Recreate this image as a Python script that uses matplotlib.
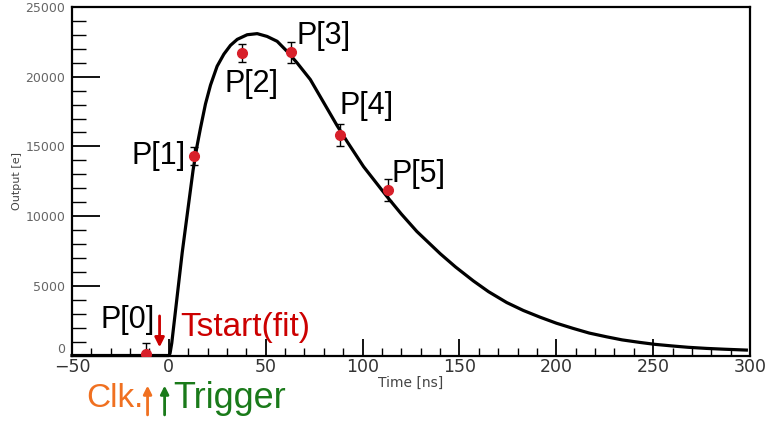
import matplotlib.pyplot as plt
import numpy as np

# ******************************************************************************
# Sampled points P[0]..P[5] (time in ns, output in e)
samp_t = [-12.0, 12.9, 37.8, 63.2, 88.2, 113.1]
samp_v = [100, 14320, 21700, 21750, 15820, 11890]
samp_err = [830, 650, 650, 770, 800, 800]
samp_names = ["P[0]", "P[1]", "P[2]", "P[3]", "P[4]", "P[5]"]

# Fitted pulse shape
fit_t = [-50, 0, 0.6, 1.5, 6.9, 10.5, 12.5, 14.5, 16.3, 18.9, 21.5, 24.9, 28.4,
         31.8, 35.3, 40.4, 45.6, 50.7, 55.9, 61.0, 66.2, 73.0, 79.9, 86.8,
         92.0, 100.5, 112.6, 120.0, 128.0, 140.1, 148.0, 157.2, 165.0, 174.4,
         183.0, 191.6, 200.0, 208.8, 217.0, 226.0, 234.0, 243.1, 251.0, 260.3,
         268.0, 277.5, 287.0, 298.1]
fit_v = [0, 0, 150, 900, 7400, 11200, 13300, 15000, 16300, 18050, 19400, 20750,
         21620, 22250, 22680, 23010, 23090, 22890, 22540, 21820, 20990, 19800,
         18150, 16500, 15350, 13550, 11400, 10150, 8900, 7300, 6350, 5350, 4580,
         3800, 3230, 2750, 2320, 1940, 1610, 1340, 1120, 940, 800, 680, 590, 510,
         450, 390]

# Label positions (t, v) for the point names
label_t = [-21.3, -5.3, 42.6, 79.7, 101.9, 128.7]
label_v = [2540, 14320, 19460, 22890, 17890, 13040]
# ******************************************************************************

fig = plt.figure(figsize=(7.71, 4.25), dpi=100)
ax = fig.add_axes([0.0934, 0.1635, 0.8794, 0.82])

ax.plot(fit_t, fit_v, color="black", lw=2.3, zorder=3, clip_on=False,
        solid_joinstyle="round")
ax.errorbar(samp_t, samp_v, yerr=samp_err, fmt="o", color="#d8202a", ms=7,
            ecolor="black", elinewidth=1.0, capsize=3, capthick=1.0, zorder=4)

lab_font = dict(family=["Liberation Sans", "DejaVu Sans"])
for name, tx, vy in zip(samp_names, label_t, label_v):
    ax.text(tx, vy, name, fontsize=22, ha="center", va="center", **lab_font)

# Tstart marker
ax.annotate("", xy=(-4.8, 390), xytext=(-4.8, 3040), annotation_clip=False,
            arrowprops=dict(arrowstyle="-|>", color="#cc0000", lw=2, mutation_scale=14))
ax.text(6.0, 2040, "Tstart(fit)", color="#cc0000", fontsize=24, ha="left",
        va="center", **lab_font)

# Clock and trigger markers below the axis
ax.annotate("", xy=(-11.0, -1960), xytext=(-11.0, -4460), annotation_clip=False,
            arrowprops=dict(arrowstyle="-|>", color="#f07020", lw=2, mutation_scale=12))
ax.text(-13.0, -3110, "Clk.", color="#f07020", fontsize=24, ha="right",
        va="center", clip_on=False, **lab_font)
ax.annotate("", xy=(-2.2, -1960), xytext=(-2.2, -4460), annotation_clip=False,
            arrowprops=dict(arrowstyle="-|>", color="#1a7a1a", lw=2, mutation_scale=12))
ax.text(2.4, -3110, "Trigger", color="#1a7a1a", fontsize=26, ha="left",
        va="center", clip_on=False, **lab_font)

# ******************************************************************************
# Axes in ROOT style
ax.set_xlim(-50, 300)
ax.set_ylim(0, 25000)
ax.set_xticks(np.arange(-50, 301, 50))
ax.set_xticks(np.arange(-50, 301, 10), minor=True)
ax.set_yticks(np.arange(0, 25001, 5000))
ax.set_yticks(np.arange(0, 25001, 1000), minor=True)
ax.tick_params(axis="x", which="major", direction="in", length=12, width=1.3,
               labelsize=12.5, labelcolor="#333333", pad=2)
ax.tick_params(axis="x", which="minor", direction="in", length=6, width=1.0)
ax.tick_params(axis="y", which="major", direction="in", length=20, width=1.3,
               labelsize=9, labelcolor="#666666", pad=5)
ax.tick_params(axis="y", which="minor", direction="in", length=10, width=1.0)
for s in ax.spines.values():
    s.set_linewidth(1.6)

# lift the "0" y label a bit so it clears the "-50" x label
ax.get_yticklabels()[0].set_va("bottom")

ax.set_xlabel("Time [ns]", fontsize=10, color="#444444", labelpad=0)
ax.set_ylabel("Output [e]", fontsize=8, color="#444444", labelpad=2)

plt.savefig("out.png", dpi=100)
